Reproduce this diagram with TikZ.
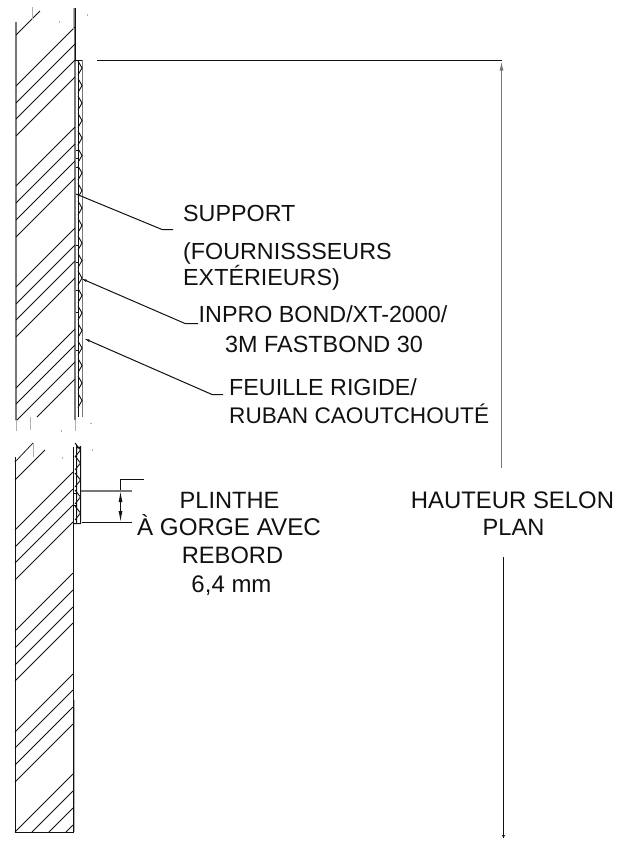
\documentclass[tikz,border=0pt]{standalone}
\usepackage{fontspec}
\setmainfont{Liberation Sans}
\usetikzlibrary{arrows.meta}
\definecolor{ink}{HTML}{111111}
\definecolor{soft}{HTML}{777777}
\definecolor{faint}{HTML}{B0B0B0}
\begin{document}
\begin{tikzpicture}[x=1pt,y=-1pt,line cap=butt,
  fs/.style={font=\fontsize{#1}{23}\selectfont},
  lab/.style={inner sep=0pt,anchor=base west,text=ink,fs=23.3},
  labc/.style={lab,anchor=base},
  hatchline/.style={draw=ink,line width=0.75pt},
  wall/.style={draw=ink,line width=1pt},
  wallgray/.style={draw=soft,line width=1.5pt},
  panel/.style={draw=ink,line width=1pt},
  ziggy/.style={draw=ink,line width=0.9pt},
  leader/.style={draw=ink,line width=1pt},
  tipped/.style={leader,{Latex[length=7pt,width=2.5pt]}-},
  dim/.style={draw=ink,line width=1pt},
  dimgray/.style={draw=soft,line width=1.4pt},
  stray/.style={draw=faint,line width=1pt}]
\useasboundingbox (0,0) rectangle (631,841);
% upper wall
\draw[wallgray] (16,22) -- (16,420);
\draw[wallgray] (75,8) -- (75,420);
\draw[wall] (75.5,8) -- (75.5,60);
\foreach \y in {86,103,119,136,186,203,220,237,287,304,320,337,388,404,421}
  \draw[hatchline] (16,\y) -- ++(59,-59);
\draw[hatchline] (16,35) -- (40,11);
\draw[hatchline] (37,417) -- (75,379);
% strays upper
\draw[stray] (32,7) -- (32,19);
\draw[stray] (73.5,8) -- (73.5,30);
\draw[stray] (87.5,14) -- (87.5,16);
\draw[stray] (59.5,21) -- (59.5,23);
\draw[stray] (30.5,417) -- (30.5,430);
\draw[stray] (16,420) -- (16,431);
\draw[stray] (61,430) -- (61,432);
\draw[stray] (75.5,420) -- (75.5,431);
\draw[stray] (90,423.5) -- (92,423.5);
% upper panel
\draw[panel] (75,60.5) -- (82,60.5);
\draw[panel] (78.5,60) -- (78.5,417);
\draw[soft,line width=1.1pt] (82.5,60) -- (82.5,417);
\foreach \k in {0,...,19}
  \draw[ziggy] (78,68+17.5*\k-7) -- (82,68+17.5*\k) -- (78,68+17.5*\k+7);
\foreach \y in {150,158,167,245,262,290,312,350}
  \draw[ziggy] (75.5,\y) -- (78,\y);
% lower wall
\draw[wall] (15,457) -- (15,832);
\draw[wall] (73.5,447) -- (73.5,832);
\draw[faint,line width=1pt] (74.5,700) -- (74.5,832);
\draw[wall] (14.5,832.5) -- (74,832.5);
\draw[hatchline] (15,462) -- (33,443);
\draw[hatchline] (15,480) -- (45,450);
\foreach \y in {530,547,563,580,631,648,665,681,732,748,765,782}
  \draw[hatchline] (15,\y) -- ++(58,-58);
\draw[hatchline] (15,832) -- (73,774);
\draw[hatchline] (32,832) -- (73,791);
\draw[hatchline] (49,832) -- (73,808);
\draw[hatchline] (66,832) -- (73,825);
\draw[stray] (33,443) -- (33,457);
\draw[stray] (62,457) -- (62,459);
\draw[stray] (92,449) -- (92,451);
% lower panel
\draw[panel] (76.5,523.5) -- (76.5,446) arc[start angle=180,end angle=0,radius=2] (80.5,446) -- (80.5,523.5) -- (73,523.5);
\foreach \y in {450,463,480,497,513}
  \draw[ziggy] (75,\y-7) -- (80.5,\y) -- (75,\y+7);
\draw[ink,line width=1pt] (73.5,493) rectangle (76.5,505);
% main dimension
\coordinate (dimtopstart) at (97,60.5);
\coordinate (dimcorner) at (501.5,60.5);
\coordinate (dimupperend) at (501.5,468);
\coordinate (dimlowerstart) at (503.5,557);
\coordinate (dimlowerend) at (503.5,839);
\draw[dim] (dimtopstart) -- (502,60.5);
\draw[dimgray,{Latex[length=10pt,width=4pt]}-] (dimcorner) -- (dimupperend);
\draw[dim,-{Latex[length=4pt,width=3pt]}] (dimlowerstart) -- (dimlowerend);
% plinth dimension
\coordinate (ptop) at (120.5,479.5);
\coordinate (ptopend) at (144,479.5);
\coordinate (pmid) at (120.5,491);
\coordinate (pbot) at (120.5,522);
\draw[dim] (ptopend) -- (ptop) -- (pmid);
\draw[dim,{Latex[length=11pt,width=4pt]}-{Latex[length=11pt,width=4pt]}] (pmid) -- (pbot);
\draw[dimgray] (81,491) -- (132,491);
\draw[dim] (82,522.5) -- (132,522.5);
% labels
\node[lab] (support) at (183,221) {SUPPORT};
\node[lab] (four) at (183,259) {(FOURNISSSEURS};
\node[lab] (ext) at (183,285) {EXTÉRIEURS)};
\node[lab] (inpro) at (198.5,322) {INPRO BOND/XT-2000/};
\node[lab,fs=23.4] (fast) at (225,352) {3M FASTBOND 30};
\node[lab] (feuille) at (229,395) {FEUILLE RIGIDE/};
\node[lab,fs=22.6] (ruban) at (229,423) {RUBAN CAOUTCHOUTÉ};
\node[labc,fs=23.6] (plinthe) at (229.5,508) {PLINTHE};
\node[labc,fs=24.2] (gorge) at (229,535) {À GORGE AVEC};
\node[labc,fs=23.7] (rebord) at (232.5,563) {REBORD};
\node[labc,fs=24] (mm) at (231.5,592) {6,4 mm};
\node[labc,fs=23.9] (hauteur) at (512.5,508) {HAUTEUR SELON};
\node[labc,fs=23.6] (plan) at (513.5,535) {PLAN};
% leaders
\coordinate (s0) at (76,194); \coordinate (s1) at (162,229.5); \coordinate (s2) at (173,229.5);
\coordinate (i0) at (80,278); \coordinate (i1) at (185,323.5); \coordinate (i2) at (198,323.5);
\coordinate (f0) at (83,338); \coordinate (f1) at (212,394.5); \coordinate (f2) at (223,394.5);
\draw[leader] (s0) -- (s1) -- (s2);
\draw[tipped] (i0) -- (i1) -- (i2);
\draw[tipped] (f0) -- (f1) -- (f2);
\end{tikzpicture}
\end{document}
